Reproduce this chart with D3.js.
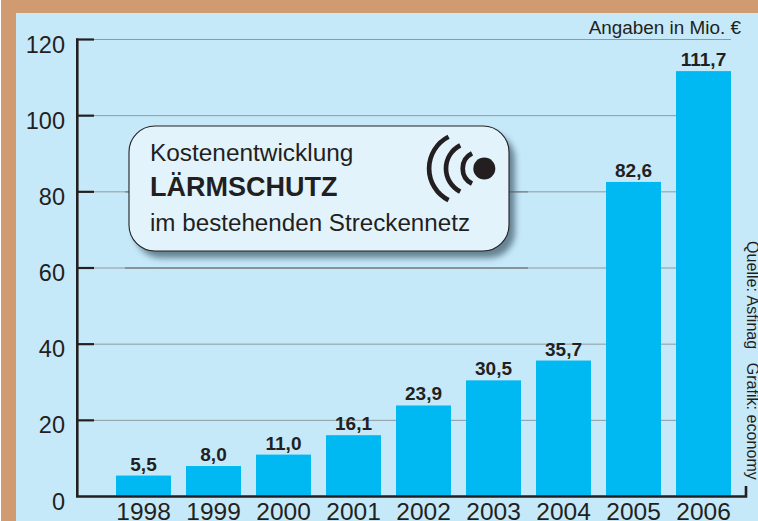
<!DOCTYPE html>
<html>
<head>
<meta charset="utf-8">
<script src="https://cdn.jsdelivr.net/npm/d3@7/dist/d3.min.js"></script>
<style>
html,body{margin:0;padding:0;background:#fff;}
svg{display:block;}
text{font-family:"Liberation Sans",Arial,sans-serif;fill:#231f20;}
</style>
</head>
<body>
<svg id="c" width="758" height="521"></svg>
<script>
const years = ["1998","1999","2000","2001","2002","2003","2004","2005","2006"];
const values = [5.5, 8.0, 11.0, 16.1, 23.9, 30.5, 35.7, 82.6, 111.7];
const valueLabels = ["5,5","8,0","11,0","16,1","23,9","30,5","35,7","82,6","111,7"];
const yTicks = [0, 20, 40, 60, 80, 100, 120];
const gridTicks = [20, 40, 60, 80, 100, 120];
const boxGridTicks = [60, 80];
const unitLabel = "Angaben in Mio. €";
const sourceLabel = "Quelle: Asfinag   Grafik: economy";
const boxLines = ["Kostenentwicklung", "LÄRMSCHUTZ", "im bestehenden Streckennetz"];

const svg = d3.select("#c");
const y = d3.scaleLinear().domain([0, 120]).range([496.5, 39.5]);
const x = d3.scaleBand().domain(years).range([116, 731]).paddingInner(15 / 70).paddingOuter(0);

const defs = svg.append("defs");
const blur = defs.append("filter").attr("id", "shadow")
  .attr("x", "-10%").attr("y", "-20%").attr("width", "120%").attr("height", "140%");
blur.append("feGaussianBlur").attr("stdDeviation", 3);

svg.append("rect").attr("x", 1).attr("y", 0).attr("width", 757).attr("height", 521).attr("fill", "#d09b70");
svg.append("rect").attr("x", 16).attr("y", 13).attr("width", 742).attr("height", 508).attr("fill", "#c6e9fa");

svg.append("g").selectAll("line").data(gridTicks).join("line")
  .attr("x1", 94).attr("x2", 731)
  .attr("y1", d => y(d)).attr("y2", d => y(d))
  .attr("stroke", "#8f989e").attr("stroke-width", 1);

svg.append("g").selectAll("rect").data(values).join("rect")
  .attr("x", (d, i) => x(years[i]))
  .attr("width", x.bandwidth())
  .attr("y", d => y(d))
  .attr("height", d => y(0) - y(d))
  .attr("fill", "#00b9f2");

svg.append("g").selectAll("text").data(values).join("text")
  .attr("x", (d, i) => x(years[i]) + x.bandwidth() / 2)
  .attr("y", d => y(d) - 5)
  .attr("text-anchor", "middle")
  .attr("font-size", 19).attr("font-weight", "bold")
  .text((d, i) => valueLabels[i]);

// axes
const axisY = d3.axisLeft(y).tickValues(yTicks).tickSize(0).tickPadding(12).tickFormat(d3.format("d"));
const gy = svg.append("g").attr("transform", "translate(77,0)").call(axisY);
gy.select(".domain").remove();
gy.selectAll("text").attr("font-size", 23.5).attr("fill", "#231f20").attr("dy", "0").attr("y", 12.5)
  .style("font-family", '"Liberation Sans",Arial,sans-serif');

svg.append("g").selectAll("line").data(yTicks.slice(1)).join("line")
  .attr("x1", 76).attr("x2", 94)
  .attr("y1", d => y(d)).attr("y2", d => y(d))
  .attr("stroke", "#231f20").attr("stroke-width", 2.2);

svg.append("path")
  .attr("d", `M77.3 ${y(120) - 1}V${y(0)}H746V486`)
  .attr("fill", "none").attr("stroke", "#231f20").attr("stroke-width", 2.6);

const axisX = d3.axisBottom(x).tickSize(0).tickPadding(0);
const gx = svg.append("g").attr("transform", `translate(0,${y(0)})`).call(axisX);
gx.select(".domain").remove();
gx.selectAll("text").attr("font-size", 24.5).attr("fill", "#231f20").attr("dy", "0").attr("y", 23.5)
  .style("font-family", '"Liberation Sans",Arial,sans-serif');

svg.append("text").attr("x", 741).attr("y", 33.5).attr("text-anchor", "end")
  .attr("font-size", 18.9).text(unitLabel);

svg.append("text")
  .attr("transform", "translate(746.5,241) rotate(90)")
  .attr("font-size", 16.1).attr("xml:space", "preserve").style("white-space", "pre")
  .text(sourceLabel);

// darker grid pieces around the info box
svg.append("g").selectAll("line").data(boxGridTicks).join("line")
  .attr("x1", 125).attr("x2", 528)
  .attr("y1", d => y(d)).attr("y2", d => y(d))
  .attr("stroke", "#7d8488").attr("stroke-width", 1.4);

// info box
const bx = 129, by = 126, bw = 380, bh = 125, br = 26;
svg.append("rect").attr("x", bx + 6).attr("y", by + 7).attr("width", bw).attr("height", bh).attr("rx", br)
  .attr("fill", "#44606f").attr("opacity", 0.75).attr("filter", "url(#shadow)");
svg.append("rect").attr("x", bx).attr("y", by).attr("width", bw).attr("height", bh).attr("rx", br)
  .attr("fill", "#e2f3fc").attr("stroke", "#231f20").attr("stroke-width", 1.1);

svg.append("text").attr("x", 150).attr("y", 161).attr("font-size", 24.4).text(boxLines[0]);
svg.append("text").attr("x", 150).attr("y", 196).attr("font-size", 27).attr("font-weight", "bold").text(boxLines[1]);
svg.append("text").attr("x", 150).attr("y", 231).attr("font-size", 24.2).text(boxLines[2]);

// sound icon
const iconY = 168.5;
svg.append("circle").attr("cx", 484.3).attr("cy", iconY).attr("r", 11).attr("fill", "#231f20");
const arc = d3.arc().startAngle(d => d.a0).endAngle(d => d.a1)
  .innerRadius(d => d.r).outerRadius(d => d.r);
svg.append("g").selectAll("path").data([
  {cx: 479.7, r: 17, a0: -2.67, a1: -0.47},
  {cx: 472, r: 26, a0: -2.67, a1: -0.47},
  {cx: 464.7, r: 35.6, a0: -2.67, a1: -0.47}
]).join("path")
  .attr("transform", d => `translate(${d.cx},${iconY})`)
  .attr("d", arc)
  .attr("fill", "none").attr("stroke", "#231f20").attr("stroke-width", 4.7).attr("stroke-linecap", "round");
</script>
</body>
</html>
